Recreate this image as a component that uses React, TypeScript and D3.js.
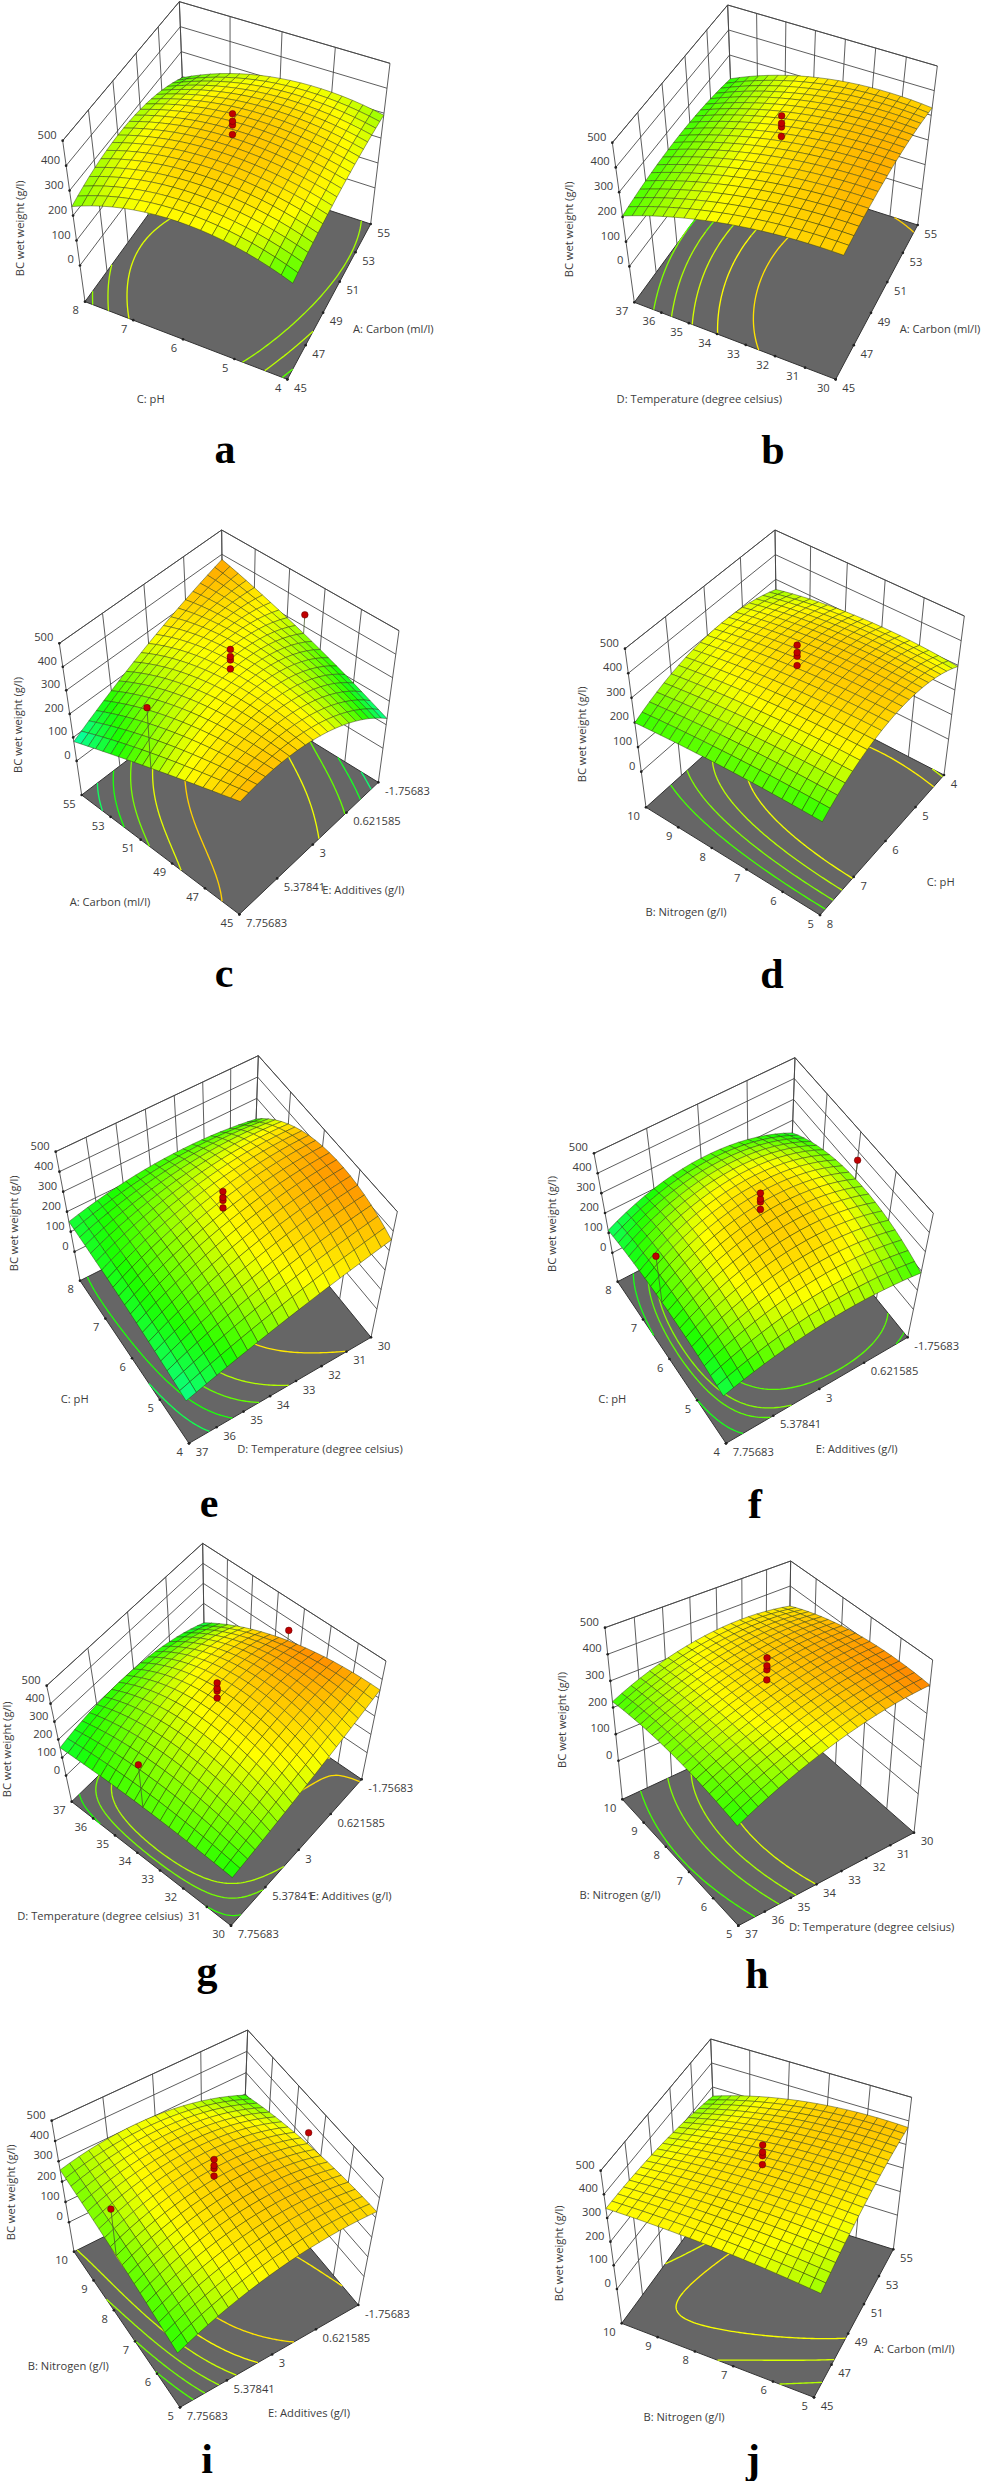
// Ten response-surface panels (BC wet weight). Heights are read off the picture at
// evenly spaced stations on each surface; the 20x20 mesh is a smooth fit through them.
import React from 'react';
import * as d3 from 'd3';

const phTicks = ['8', '7', '6', '5', '4'];
const nitrogenTicks = ['10', '9', '8', '7', '6', '5'];
const temperatureTicks = ['37', '36', '35', '34', '33', '32', '31', '30'];
const carbonUp = ['45', '47', '49', '51', '53', '55'];
const carbonDown = ['55', '53', '51', '49', '47', '45'];
const additivesTicks = ['7.75683', '5.37841', '3', '0.621585', '-1.75683'];
const zTicks = [0, 100, 200, 300, 400, 500];
const centerRuns = [364, 402, 417, 447];

// rows run front corner -> left corner, columns front corner -> right corner
const heightA = [[242, 290, 292], [328, 350, 313], [236, 282, 196]];
const heightB = [[353, 375, 330], [321, 345, 322], [204, 235, 205]];
const heightC = [[334, 320, 126], [211, 355, 270], [82, 252, 379]];
const heightD = [[232, 370, 295], [225, 353, 307], [199, 300, 259]];
const heightE = [[93, 235, 355], [135, 342, 420], [150, 227, 203]];
const heightF = [[126, 215, 190], [155, 335, 265], [113, 235, 139]];
const heightG = [[158, 235, 342], [175, 350, 290], [155, 200, 103]];
const heightH = [[224, 360, 406], [250, 368, 400], [222, 332, 320]];
const heightI = [[151, 307, 330], [215, 348, 290], [257, 300, 195]];
const heightJ = [[287, 358, 372], [328, 362, 355], [340, 322, 262]];

// colour seen on the surface: 0 cyan, 1 green, 2 yellow, 3 orange
const shadeA = [[1.1, 1.9, 1.5], [2.0, 2.5, 1.9], [1.4, 1.6, 1.05]];
const shadeB = [[2.4, 2.7, 2.35], [2.1, 2.2, 2.2], [1.2, 1.15, 1.0]];
const shadeC = [[2.6, 2.1, 0.2], [1.5, 2.0, 1.5], [0.1, 1.9, 2.8]];
const shadeD = [[1.0, 2.4, 1.7], [1.2, 2.35, 2.0], [1.05, 1.9, 1.5]];
const shadeE = [[0.3, 1.6, 2.35], [0.8, 2.0, 2.85], [0.7, 1.1, 0.9]];
const shadeF = [[0.6, 1.6, 1.05], [0.95, 2.4, 1.4], [0.5, 1.1, 0.75]];
const shadeG = [[0.95, 1.8, 2.3], [1.2, 2.15, 2.85], [0.7, 1.05, 0.5]];
const shadeH = [[1.0, 2.0, 3.1], [1.35, 2.35, 2.8], [1.1, 2.0, 2.1]];
const shadeI = [[1.0, 2.1, 2.3], [1.3, 2.4, 2.1], [1.4, 1.9, 1.0]];
const shadeJ = [[1.55, 2.1, 2.5], [2.0, 2.3, 2.3], [2.0, 1.85, 1.25]];

const levelsA = [250, 275, 300];
const levelsB = [235, 260, 285, 310, 338];
const levelsC = [120, 158, 200, 250, 310];
const levelsD = [250, 275, 300, 325];
const levelsE = [125, 160, 200, 243, 324];
const levelsF = [150, 182, 200, 235];
const levelsG = [167, 190, 215, 338];
const levelsH = [255, 295, 320, 346];
const levelsI = [181, 205, 232, 261, 291, 325];
const levelsJ = [304, 327, 345];

const axialC = [{ u: 0.5, v: 1, z: 348 }, { u: 0.5, v: 0, z: 470 }];
const axialF = [{ u: 0.5, v: 1, z: 358 }, { u: 0.5, v: 0, z: 400 }];
const axialG = [{ u: 0.5, v: 1, z: 343 }, { u: 0.5, v: 0, z: 425 }];
const axialI = [{ u: 0.5, v: 1, z: 343 }, { u: 0.5, v: 0, z: 455 }];

const carbonTitle = 'A: Carbon (ml/l)';
const nitrogenTitle = 'B: Nitrogen (g/l)';
const phTitle = 'C: pH';
const temperatureTitle = 'D: Temperature (degree celsius)';
const additivesTitle = 'E: Additives (g/l)';

type Pt = [number, number];

const series = [
  { letter: 'a', left: phTicks, right: carbonUp, leftTitle: phTitle, rightTitle: carbonTitle, height: heightA, shade: shadeA, levels: levelsA, axial: [] },
  { letter: 'b', left: temperatureTicks, right: carbonUp, leftTitle: temperatureTitle, rightTitle: carbonTitle, height: heightB, shade: shadeB, levels: levelsB, axial: [] },
  { letter: 'c', left: carbonDown, right: additivesTicks, leftTitle: carbonTitle, rightTitle: additivesTitle, height: heightC, shade: shadeC, levels: levelsC, axial: axialC },
  { letter: 'd', left: nitrogenTicks, right: phTicks, leftTitle: nitrogenTitle, rightTitle: phTitle, height: heightD, shade: shadeD, levels: levelsD, axial: [] },
  { letter: 'e', left: phTicks, right: temperatureTicks, leftTitle: phTitle, rightTitle: temperatureTitle, height: heightE, shade: shadeE, levels: levelsE, axial: [] },
  { letter: 'f', left: phTicks, right: additivesTicks, leftTitle: phTitle, rightTitle: additivesTitle, height: heightF, shade: shadeF, levels: levelsF, axial: axialF },
  { letter: 'g', left: temperatureTicks, right: additivesTicks, leftTitle: temperatureTitle, rightTitle: additivesTitle, height: heightG, shade: shadeG, levels: levelsG, axial: axialG },
  { letter: 'h', left: nitrogenTicks, right: temperatureTicks, leftTitle: nitrogenTitle, rightTitle: temperatureTitle, height: heightH, shade: shadeH, levels: levelsH, axial: [] },
  { letter: 'i', left: nitrogenTicks, right: additivesTicks, leftTitle: nitrogenTitle, rightTitle: additivesTitle, height: heightI, shade: shadeI, levels: levelsI, axial: axialI },
  { letter: 'j', left: nitrogenTicks, right: carbonUp, leftTitle: nitrogenTitle, rightTitle: carbonTitle, height: heightJ, shade: shadeJ, levels: levelsJ, axial: [] },
];

// Layout, in units of 1/3 px inside each panel: box corners, back grid step, title spots, letter spot
const frames = [
  { ox: 0, oy: 0, L0: [255, 905], F0: [862, 1138], R0: [1112, 672], L1: [188, 422], R1: [1170, 190], B1: [538, 5], step: 75, leftAt: [452, 1198], rightAt: [1180, 987], zAt: [60, 685], letterAt: [225, 463] },
  { ox: 490, oy: 0, L0: [433, 907], F0: [1037, 1138], R0: [1283, 675], L1: [367, 428], R1: [1342, 198], B1: [713, 15], step: 75, leftAt: [628, 1198], rightAt: [1350, 988], zAt: [238, 688], letterAt: [773, 464] },
  { ox: 0, oy: 500, L0: [245, 885], F0: [718, 1243], R0: [1135, 847], L1: [178, 430], R1: [1197, 392], B1: [665, 90], step: 73, leftAt: [330, 1205], rightAt: [1090, 1170], zAt: [55, 675], letterAt: [224, 987] },
  { ox: 490, oy: 500, L0: [468, 922], F0: [990, 1245], R0: [1362, 825], L1: [405, 446], R1: [1423, 348], B1: [855, 90], step: 74, leftAt: [588, 1236], rightAt: [1352, 1145], zAt: [275, 703], letterAt: [772, 988] },
  { ox: 0, oy: 1010, L0: [240, 812], F0: [567, 1300], R0: [1113, 982], L1: [167, 425], R1: [1192, 605], B1: [775, 137], step: 64, leftAt: [224, 1167], rightAt: [960, 1316], zAt: [42, 640], letterAt: [209, 1517] },
  { ox: 490, oy: 1010, L0: [383, 815], F0: [708, 1300], R0: [1253, 982], L1: [312, 430], R1: [1330, 610], B1: [915, 143], step: 62.5, leftAt: [367, 1167], rightAt: [1100, 1316], zAt: [186, 642], letterAt: [755, 1518] },
  { ox: 0, oy: 1500, L0: [215, 905], F0: [693, 1277], R0: [1085, 838], L1: [140, 557], R1: [1158, 483], B1: [608, 130], step: 60, leftAt: [300, 1248], rightAt: [1052, 1187], zAt: [22, 748], letterAt: [207, 1985] },
  { ox: 490, oy: 1500, L0: [397, 898], F0: [745, 1277], R0: [1272, 998], L1: [345, 383], R1: [1328, 480], B1: [902, 183], step: 75, leftAt: [390, 1185], rightAt: [1145, 1280], zAt: [215, 660], letterAt: [757, 1988] },
  { ox: 0, oy: 1990, L0: [222, 785], F0: [540, 1252], R0: [1075, 945], L1: [155, 392], R1: [1150, 565], B1: [743, 120], step: 64, leftAt: [205, 1127], rightAt: [927, 1270], zAt: [32, 607], letterAt: [207, 2473] },
  { ox: 490, oy: 1990, L0: [395, 1000], F0: [972, 1222], R0: [1210, 778], L1: [332, 542], R1: [1265, 322], B1: [662, 147], step: 72, leftAt: [582, 1280], rightAt: [1273, 1078], zAt: [208, 790], letterAt: [753, 2473] },
];

const MESH = 20;
const zToLift = d3.scaleLinear().domain([-145, 500]).range([0, 1]);
const shadeColor = d3.scaleLinear<string>()
  .domain([0, 1, 2, 3])
  .range(['#00ffd0', '#1cff00', '#ffff00', '#ff8c00'])
  .clamp(true);

const cross = (a: number[], b: number[]) => [
  a[1] * b[2] - a[2] * b[1],
  a[2] * b[0] - a[0] * b[2],
  a[0] * b[1] - a[1] * b[0],
];
const lineThrough = (p: number[], q: number[]) => cross([p[0], p[1], 1], [q[0], q[1], 1]);
const meet = (l: number[], m: number[]) => cross(l, m); // homogeneous point
const toXY = (h: number[]): Pt => [h[0] / h[2], h[1] / h[2]];

// unit square -> quad: (0,0) front, (1,0) left, (1,1) back, (0,1) right
function quadMap(p00: Pt, p10: Pt, p11: Pt, p01: Pt) {
  const dx1 = p10[0] - p11[0], dx2 = p01[0] - p11[0], sx = p00[0] - p10[0] + p11[0] - p01[0];
  const dy1 = p10[1] - p11[1], dy2 = p01[1] - p11[1], sy = p00[1] - p10[1] + p11[1] - p01[1];
  const den = dx1 * dy2 - dx2 * dy1;
  const g = (sx * dy2 - dx2 * sy) / den;
  const h = (dx1 * sy - sx * dy1) / den;
  const a = p10[0] - p00[0] + g * p10[0], b = p01[0] - p00[0] + h * p01[0];
  const d = p10[1] - p00[1] + g * p10[1], e = p01[1] - p00[1] + h * p01[1];
  return (u: number, v: number): Pt => {
    const w = g * u + h * v + 1;
    return [(a * u + b * v + p00[0]) / w, (d * u + e * v + p00[1]) / w];
  };
}

function buildCamera(fr: any) {
  const vertical = meet(lineThrough(fr.L0, fr.L1), lineThrough(fr.R0, fr.R1));
  const vp = toXY(vertical);
  const backY = fr.B1[1] + fr.step * 6.45;
  const B0: Pt = [fr.B1[0] + (vp[0] - fr.B1[0]) * ((backY - fr.B1[1]) / (vp[1] - fr.B1[1])), backY];
  const vpRight = meet(lineThrough(fr.L0, B0), lineThrough(fr.F0, fr.R0));
  const vpLeft = meet(lineThrough(fr.L0, fr.F0), lineThrough(B0, fr.R0));
  const rightLine = cross([fr.R1[0], fr.R1[1], 1], vpRight);
  const leftLine = cross([fr.L1[0], fr.L1[1], 1], vpLeft);
  const F1 = toXY(meet(rightLine, leftLine));
  const floor = quadMap(fr.F0, fr.L0, B0, fr.R0);
  const top = quadMap(F1, fr.L1, fr.B1, fr.R1);
  return (u: number, v: number, lift: number): Pt => {
    const a = floor(u, v), b = top(u, v);
    return [a[0] + (b[0] - a[0]) * lift, a[1] + (b[1] - a[1]) * lift];
  };
}

// polynomial through evenly spaced stations on both axes
function gridValue(grid: number[][], u: number, v: number) {
  const weights = (t: number, n: number) => d3.range(n).map(i => {
    let w = 1;
    for (let k = 0; k < n; k++) if (k !== i) w *= (t * (n - 1) - k) / (i - k);
    return w;
  });
  const wu = weights(u, grid.length), wv = weights(v, grid[0].length);
  let s = 0;
  grid.forEach((row, i) => row.forEach((val, j) => { s += wu[i] * wv[j] * val; }));
  return s;
}

const pathOf = d3.line();

function Panel({ data, frame }: any) {
  const project = buildCamera(frame);
  const at = (u: number, v: number, z: number) => project(u, v, zToLift(z));
  const inkLine = '#444';
  const textInk = '#3c3c3c';
  const nL = data.left.length, nR = data.right.length;
  const leftStops = d3.range(nL).map(i => 1 - i / (nL - 1));
  const rightStops = d3.range(nR).map(i => i / (nR - 1));

  const walls: string[] = [];
  zTicks.forEach(z => walls.push(pathOf([at(1, 0, z), at(1, 1, z), at(0, 1, z)]) as string));
  rightStops.forEach(v => walls.push(pathOf([project(1, v, 0), project(1, v, 1)]) as string));
  leftStops.forEach(u => walls.push(pathOf([project(u, 1, 0), project(u, 1, 1)]) as string));
  walls.push(pathOf([project(1, 0, 1), project(1, 1, 1), project(0, 1, 1)]) as string);

  const floorShape = pathOf([project(0, 0, 0), project(1, 0, 0), project(1, 1, 0), project(0, 1, 0)]) + 'Z';

  // contours on the floor
  const N = 81;
  const field: number[] = [];
  for (let r = 0; r < N; r++) for (let c = 0; c < N; c++) field.push(gridValue(data.height, r / (N - 1), c / (N - 1)));
  const contourGen = d3.contours().size([N, N]).thresholds(data.levels);
  const contourLines: { d: string; color: string }[] = [];
  contourGen(field).forEach(shape => {
    shape.coordinates.forEach(poly => poly.forEach(ring => {
      const uv = ring.map(([x, y]) => [
        Math.max(0, Math.min(1, (y - 0.5) / (N - 1))),
        Math.max(0, Math.min(1, (x - 0.5) / (N - 1))),
      ]);
      let run: Pt[] = [];
      let color = '';
      const flush = () => {
        if (run.length > 1) contourLines.push({ d: pathOf(run) as string, color });
        run = [];
      };
      for (let i = 1; i < uv.length; i++) {
        const a = uv[i - 1], b = uv[i];
        const edge = (a[0] === b[0] && (a[0] === 0 || a[0] === 1)) || (a[1] === b[1] && (a[1] === 0 || a[1] === 1));
        if (edge) { flush(); continue; }
        if (!run.length) {
          run.push(project(a[0], a[1], 0));
          color = shadeColor(gridValue(data.shade, a[0], a[1])) as string;
        }
        run.push(project(b[0], b[1], 0));
      }
      flush();
    }));
  });

  // mesh, painted far corner first
  const cells: { d: string; fill: string; key: string }[] = [];
  for (let i = MESH - 1; i >= 0; i--) {
    for (let j = MESH - 1; j >= 0; j--) {
      const u0 = i / MESH, u1 = (i + 1) / MESH, v0 = j / MESH, v1 = (j + 1) / MESH;
      const corner = (u: number, v: number) => at(u, v, gridValue(data.height, u, v));
      cells.push({
        key: `${i}-${j}`,
        d: pathOf([corner(u0, v0), corner(u1, v0), corner(u1, v1), corner(u0, v1)]) + 'Z',
        fill: shadeColor(gridValue(data.shade, (u0 + u1) / 2, (v0 + v1) / 2)) as string,
      });
    }
  }

  const dots = [
    ...data.axial.map((p: any) => ({ ...p, foot: gridValue(data.height, p.u, p.v) })),
    ...centerRuns.map(z => ({ u: 0.5, v: 0.5, z, foot: z })),
  ];
  const textProps = { fontFamily: '"Open Sans", sans-serif', fontSize: 33.5, fill: textInk };

  return (
    <g transform={`translate(${frame.ox},${frame.oy}) scale(${1 / 3})`}>
      <path d={walls.join('')} fill="none" stroke={inkLine} strokeWidth={2.6} />
      <path d={floorShape} fill="#666666" stroke="#333" strokeWidth={3} />
      {contourLines.map((c, i) => (
        <path key={i} d={c.d} fill="none" stroke={c.color} strokeWidth={4} />
      ))}
      {leftStops.map((u, i) => {
        const p = project(u, 0, 0);
        return (
          <g key={i}>
            <circle cx={p[0]} cy={p[1]} r={4} fill="#222" />
            <text x={p[0] - 18} y={p[1] + 26} dy="0.36em" textAnchor="end" {...textProps}>{data.left[i]}</text>
          </g>
        );
      })}
      {rightStops.map((v, i) => {
        const p = project(0, v, 0);
        return (
          <g key={i}>
            <circle cx={p[0]} cy={p[1]} r={4} fill="#222" />
            <text x={p[0] + 20} y={p[1] + 26} dy="0.36em" textAnchor="start" {...textProps}>{data.right[i]}</text>
          </g>
        );
      })}
      {zTicks.map(z => {
        const p = at(1, 0, z);
        return (
          <g key={z}>
            <circle cx={p[0]} cy={p[1]} r={4} fill="#222" />
            <text x={p[0] - 18} y={p[1] - 18} dy="0.36em" textAnchor="end" {...textProps}>{z}</text>
          </g>
        );
      })}
      {cells.map(c => (
        <path key={c.key} d={c.d} fill={c.fill} stroke="#2b3a10" strokeOpacity={0.72} strokeWidth={1.9} strokeLinejoin="round" />
      ))}
      {dots.map((p, i) => {
        const head = at(p.u, p.v, p.z);
        const foot = at(p.u, p.v, p.foot);
        return (
          <g key={i}>
            {p.foot !== p.z && <line x1={head[0]} y1={head[1]} x2={foot[0]} y2={foot[1]} stroke="#4a5a30" strokeWidth={2.4} />}
            <circle cx={head[0]} cy={head[1]} r={10} fill="#c00000" stroke="#5a0000" strokeWidth={1.5} />
          </g>
        );
      })}
      <text x={frame.leftAt[0]} y={frame.leftAt[1]} dy="0.36em" textAnchor="middle" {...textProps}>{data.leftTitle}</text>
      <text x={frame.rightAt[0]} y={frame.rightAt[1]} dy="0.36em" textAnchor="middle" {...textProps}>{data.rightTitle}</text>
      <text
        transform={`translate(${frame.zAt[0]},${frame.zAt[1]}) rotate(-90)`}
        dy="0.36em"
        textAnchor="middle"
        {...textProps}
      >BC wet weight (g/l)</text>
    </g>
  );
}

export default function App() {
  return (
    <svg width={983} height={2481} style={{ position: 'absolute', left: 0, top: 0, background: '#fff' }}>
      {series.map((s, i) => <Panel key={s.letter} data={s} frame={frames[i]} />)}
      {series.map((s, i) => (
        <text
          key={s.letter}
          x={frames[i].letterAt[0]}
          y={frames[i].letterAt[1]}
          textAnchor="middle"
          fontFamily='"Liberation Serif", serif'
          fontWeight="bold"
          fontSize={42}
          fill="#000"
        >{s.letter}</text>
      ))}
    </svg>
  );
}
